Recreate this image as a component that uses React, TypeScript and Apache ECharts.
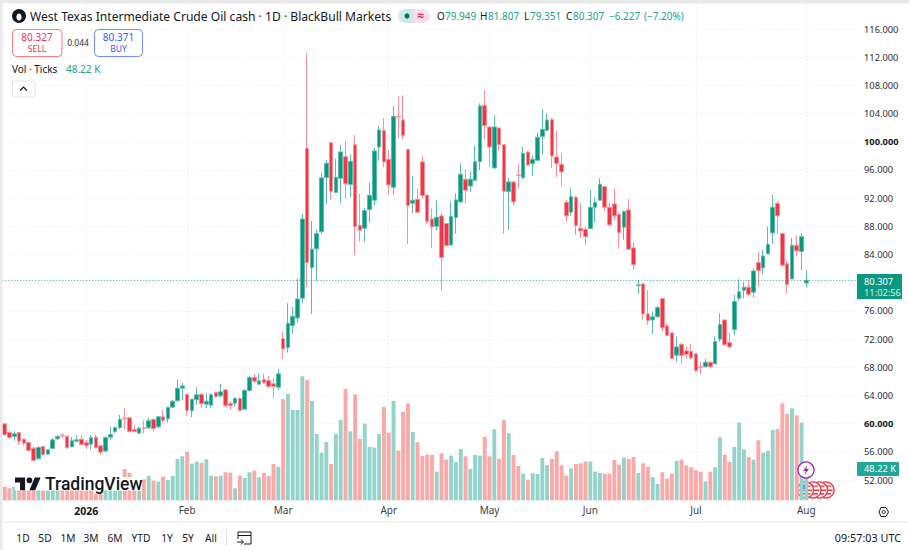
import React, { useEffect, useRef } from "react";
import * as echarts from "echarts";

const opens = [
59.97,58.74,58.18,58.74,57.80,57.32,56.52,55.01,56.76,55.67,
56.47,57.84,58.36,58.22,56.71,57.51,57.80,57.28,57.09,58.08,
56.85,56.10,58.08,58.88,59.45,60.78,60.82,59.17,58.65,59.40,
59.40,60.59,59.55,60.97,60.68,62.34,63.23,65.03,64.18,61.82,
63.38,64.18,62.76,62.62,64.42,63.94,64.79,62.86,62.90,63.57,
62.05,64.70,66.54,65.60,66.26,66.12,65.65,65.17,72.07,70.80,
73.92,75.00,77.80,99.07,82.15,84.80,87.25,94.91,99.88,92.79,
94.82,97.89,93.92,99.59,88.15,87.73,90.37,91.70,99.26,101.58,
97.51,93.54,103.61,103.09,98.88,91.27,91.84,97.14,92.45,89.05,
88.01,89.48,88.39,85.36,89.24,91.46,94.68,93.73,94.54,97.18,
105.17,102.10,96.28,101.96,99.59,92.93,94.30,95.29,94.91,98.55,
96.90,97.37,100.73,101.63,103.14,97.84,96.80,91.41,90.00,92.12,
87.73,87.58,87.68,90.70,91.70,93.64,90.70,91.18,89.71,87.87,
90.33,84.94,79.59,79.83,75.57,74.72,75.15,77.75,73.87,72.88,
69.71,71.27,70.33,70.28,69.90,68.06,68.06,68.72,68.48,71.98,
74.72,71.51,73.35,77.80,78.93,79.36,78.65,82.86,82.10,84.09,
87.06,91.27,86.97,82.67,80.54,85.31,84.42,79.949];
const closes = [
58.41,58.03,58.55,57.51,57.23,56.19,54.77,56.62,55.57,56.28,
57.70,58.18,58.27,56.57,57.56,57.70,57.04,56.85,57.99,56.57,
55.95,58.03,58.46,59.45,60.59,60.68,58.88,58.88,59.36,59.31,
60.40,59.31,60.97,60.45,62.29,63.19,65.03,65.36,61.86,63.47,
64.09,62.81,63.19,64.09,63.85,64.51,62.53,62.53,63.57,61.86,
64.70,66.54,66.02,66.07,65.79,65.27,65.27,67.06,70.61,74.25,
75.24,77.70,89.05,82.86,84.75,86.97,94.87,96.95,92.93,94.96,
98.55,94.02,97.23,87.96,87.44,90.23,92.41,98.70,101.67,97.14,
93.87,103.57,103.52,100.87,90.94,91.70,90.00,92.36,88.72,87.92,
89.29,83.57,85.27,89.43,91.75,95.39,93.12,94.68,97.18,105.08,
102.29,99.26,102.10,99.59,92.97,94.30,91.46,95.20,98.37,96.71,
97.51,100.63,101.77,103.09,97.99,96.90,95.72,89.48,92.22,88.10,
87.35,86.54,90.70,91.41,93.97,90.70,88.20,89.48,87.11,90.09,
84.75,82.53,79.69,75.57,74.63,75.15,76.47,73.59,72.50,69.24,
70.89,69.67,69.81,69.33,67.49,67.96,68.72,68.06,71.65,74.06,
71.18,70.89,77.32,78.70,79.36,78.36,81.67,81.72,83.80,85.41,
90.70,89.48,82.48,79.74,85.31,84.51,86.53,80.307];
const highs = [
59.97,58.98,58.88,58.74,57.94,57.47,56.76,56.76,56.85,56.38,
57.94,58.36,58.65,58.22,58.08,58.36,58.32,57.70,58.36,58.41,
56.99,58.18,59.59,59.59,61.25,62.19,60.82,59.83,59.59,60.45,
60.78,60.78,61.11,61.96,62.43,63.38,66.21,65.83,64.18,63.47,
65.17,64.32,64.32,64.32,64.56,65.65,64.89,63.14,63.75,63.75,
64.89,66.78,67.02,67.16,67.06,66.78,66.45,67.73,73.07,77.08,
76.52,80.56,89.76,112.55,88.77,87.49,95.53,97.42,99.88,97.56,
99.55,100.11,98.22,100.97,92.60,90.66,94.20,99.17,102.24,103.33,
98.84,105.08,106.40,106.59,98.88,95.15,93.40,98.03,92.45,90.52,
91.75,89.95,88.39,91.56,92.69,96.95,96.10,95.76,99.40,105.46,
107.35,102.10,103.75,101.96,99.59,94.82,94.30,96.85,99.31,98.70,
98.03,101.30,104.65,104.04,103.42,101.58,98.37,91.75,93.49,92.31,
91.27,87.96,93.16,92.12,94.82,93.64,91.41,93.40,89.95,90.23,
91.89,85.69,80.40,79.92,78.98,75.91,76.71,77.84,74.25,72.97,
72.36,71.41,70.94,71.32,69.90,68.81,69.19,68.81,72.36,75.67,
74.72,72.93,78.27,80.49,80.11,80.40,82.05,84.42,84.65,87.96,
92.45,91.56,86.97,83.14,86.31,86.64,87.02,81.807];
const lows = [
58.27,57.80,57.56,56.95,56.85,56.05,54.77,54.96,55.48,55.53,
56.38,57.70,57.94,56.47,56.66,57.37,56.95,56.38,56.28,56.47,
55.57,55.95,57.70,58.65,59.22,59.12,58.74,58.74,58.55,58.65,
59.22,58.88,59.36,60.07,60.16,62.19,63.14,63.38,61.11,60.92,
62.67,62.19,62.19,62.19,63.61,63.75,62.34,61.96,62.43,61.72,
61.96,64.56,65.83,65.50,65.65,65.03,63.61,64.79,69.14,70.09,
72.73,74.29,77.09,79.36,75.57,80.30,86.92,91.18,91.75,92.79,
91.27,91.89,92.08,83.94,85.84,85.84,88.53,90.94,97.32,96.38,
92.41,92.50,100.49,100.35,85.50,89.85,89.95,91.98,88.34,84.89,
87.40,78.88,85.13,85.22,86.97,91.27,91.27,92.93,94.35,96.00,
100.35,96.47,96.24,98.74,86.92,87.49,90.94,93.35,94.68,96.57,
95.15,97.32,98.22,101.49,96.24,94.96,93.78,88.67,89.52,86.78,
86.31,85.36,87.63,88.53,91.65,90.09,87.96,88.91,84.79,86.07,
84.65,81.82,78.41,74.72,74.01,72.74,75.05,73.07,72.36,69.14,
68.81,68.48,69.19,69.05,67.40,67.02,68.01,67.82,68.44,71.65,
71.08,70.75,72.55,77.47,77.80,78.03,77.94,79.45,81.20,84.09,
85.50,86.92,82.29,78.41,80.49,83.71,81.82,79.351];
const volumes = [
20.5,18,20.5,24,23,21,24,30,22,18,
25,20,22,24,20,19,21,20,26,9.5,
9.5,24,20,22,26,47,41.5,24,22,31.5,
36.5,29.5,28,35.5,30.5,36.5,62,66,73,55,
58,56,61.5,37,36,37,42,41.5,18,37,
33.5,42,44.5,34.5,41,36.5,54.5,50,151.5,159.5,
135.5,135.5,186,180.5,149,99.5,71.5,87.5,54.5,99.5,
120.5,167,103.5,159,92,115,80,79,99.5,140,
101.5,149,74.5,133,145.5,102.5,87,66.5,68.5,68,
43,70.5,61,67,57.5,77,66,47,68,67,
95.5,66,106.5,62,120.5,100.5,68,51.5,40,31,
40.5,39.5,63.5,52.5,62,73.5,52.5,37,48,54.5,
55.5,58.5,58,43,41,40,40,60.5,53.5,64,
62,65,41,55.5,50.5,35,24.5,42,32.5,40,
59,61,52.5,49.5,45,43,28.5,43,49.5,94.5,
68.5,57.5,80,116.5,76.5,65,61,90,71.5,74.5,
105.5,107,145.5,130,138,127.5,116.5,48.22];
const volumeRedOverride = [14, 15, 18];
const tickIndexes = [17, 38, 58, 80, 101, 122, 144, 167];
const tickLabels = ["2026", "Feb", "Mar", "Apr", "May", "Jun", "Jul", "Aug"];
const slotCount = 178;
const categories = Array.from({ length: slotCount }, (_, i) => String(i));
const lastPrice = 80.307;
const rangeButtons = ["1D", "5D", "1M", "3M", "6M", "YTD", "1Y", "5Y", "All"];
const rangeX = [23, 45, 68, 91, 115, 141, 167, 188, 211];

const FONT = '"Noto Sans", "Open Sans", Roboto, sans-serif';
const UP = "#089981";
const DOWN = "#F23645";

echarts.graphic.registerShape(
  "tvlogo",
  echarts.graphic.extendPath(
    "M14 22H7V11H0V4H14ZM28 22H20L27.5 4H35.5ZM24 8A4 4 0 1 1 16 8A4 4 0 1 1 24 8Z",
    {} as any
  ) as any
);

const txt = (
  text: string, x: number, y: number, fill: string, size = 10, weight: any = 400, align = "left", family = FONT
) => ({
  type: "text", z: 20, silent: true,
  style: { text, x, y, fill, font: `${weight} ${size}px ${family}`, textAlign: align, textVerticalAlign: "middle" },
});
const rect = (x: number, y: number, width: number, height: number, style: any, r: any = 0) => ({
  type: "rect", z: 15, silent: true, shape: { x, y, width, height, r }, style,
});
const usFlag = (cx: number) => ({
  type: "group", z: 18, silent: true, children: [
    { type: "circle", shape: { cx, cy: 490, r: 8 }, style: { fill: "#fff", stroke: DOWN, lineWidth: 1.4 } },
    { type: "rect", shape: { x: cx - 6.5, y: 489.5, width: 13, height: 1.6 }, style: { fill: DOWN } },
    { type: "rect", shape: { x: cx - 5, y: 493, width: 10, height: 1.6 }, style: { fill: DOWN } },
    { type: "rect", shape: { x: cx - 5.5, y: 484.5, width: 5.5, height: 4.5 }, style: { fill: "#2962FF" } },
    { type: "rect", shape: { x: cx, y: 485.5, width: 5, height: 1.3 }, style: { fill: DOWN } },
  ],
});

export default function App() {
  const ref = useRef<HTMLDivElement>(null);
  useEffect(() => {
    document.body.style.margin = "0";
    const chart = echarts.init(ref.current!, undefined, { renderer: "svg" });
    const graphic: any[] = [
      // frame
      rect(0, 0, 909, 3.5, { fill: "#E9E9EA" }),
      rect(0, 0, 2.5, 550, { fill: "#E9E9EA" }),
      rect(3, 521.5, 906, 1, { fill: "#E6E8EE" }),
      // header
      { type: "circle", z: 15, silent: true, shape: { cx: 19, cy: 16, r: 7 }, style: { fill: "#131722" } },
      { type: "ellipse", z: 16, silent: true, shape: { cx: 19, cy: 17, rx: 2.6, ry: 3.6 }, style: { fill: "#fff" } },
      txt("West Texas Intermediate Crude Oil cash · 1D · BlackBull Markets", 30, 16, "#131722", 12.1),
      rect(398, 9, 16, 14, { fill: "#CDEBE6" }, [7, 0, 0, 7]),
      rect(414, 9, 16, 14, { fill: "#FBE0E8" }, [0, 7, 7, 0]),
      { type: "circle", z: 16, silent: true, shape: { cx: 407, cy: 16, r: 2.6 }, style: { fill: "#06715F" } },
      txt("≈", 421, 15.5, "#E91E63", 12, 700, "center"),
      txt("O", 437, 16, "#131722", 10), txt("79.949", 445, 16, "#22A08C", 10),
      txt("H", 480, 16, "#131722", 10), txt("81.807", 488, 16, "#22A08C", 10),
      txt("L", 524, 16, "#131722", 10), txt("79.351", 530, 16, "#22A08C", 10),
      txt("C", 566, 16, "#131722", 10), txt("80.307", 573, 16, "#22A08C", 10),
      txt("−6.227", 609, 16, "#22A08C", 10), txt("(−7.20%)", 644, 16, "#22A08C", 10),
      // sell / buy
      rect(12.5, 29.5, 49.5, 27, { fill: "#fff", stroke: "#F77C80", lineWidth: 1 }, 4),
      txt("80.327", 37, 37, DOWN, 10, 400, "center"),
      txt("SELL", 37, 48.5, DOWN, 8.5, 400, "center"),
      txt("0.044", 78, 42.5, "#2A2E39", 8.5, 400, "center"),
      rect(94.5, 29.5, 48, 27, { fill: "#fff", stroke: "#6E8FF7", lineWidth: 1 }, 4),
      txt("80.371", 118.5, 37, "#2962FF", 10, 400, "center"),
      txt("BUY", 118.5, 48.5, "#2962FF", 8.5, 400, "center"),
      // volume legend
      txt("Vol · Ticks", 12, 69, "#131722", 10),
      txt("48.22 K", 66, 69, "#22A08C", 10),
      rect(12.5, 81, 22.5, 16, { fill: "#fff", stroke: "#E0E3EB", lineWidth: 1 }, 2),
      { type: "polyline", z: 16, silent: true, shape: { points: [[20, 90.5], [23.5, 87], [27, 90.5]] }, style: { stroke: "#131722", lineWidth: 1.2, fill: "none" } },
      // price tags
      rect(857, 274, 45, 25, { fill: UP }),
      txt("80.307", 864, 281, "#fff", 9.3),
      txt("11:02:56", 864, 292, "#D5F0EB", 9.3),
      rect(857, 462, 42, 14, { fill: "#22A699" }, 1),
      txt("48.22 K", 864, 468.8, "#fff", 9.3),
      // logo
      rect(15, 477, 127, 13.5, { fill: "#fff" }),
      { type: "tvlogo", z: 16, silent: true, x: 15, y: 474.5, scaleX: 0.72, scaleY: 0.72, style: { fill: "#131722" } },
      txt("TradingView", 45, 484, "#131722", 17.5, 500, "left", "Roboto, sans-serif"),
      // events
      usFlag(826), usFlag(819.5), usFlag(813), usFlag(805.5),
      { type: "circle", z: 17, silent: true, shape: { cx: 806, cy: 470, r: 8 }, style: { fill: "#fff", stroke: "#9C27B0", lineWidth: 1.3 } },
      { type: "polygon", z: 18, silent: true, shape: { points: [[807.5, 465], [803, 471], [805.8, 471], [804.5, 475], [809, 469], [806.2, 469]] }, style: { fill: "#9C27B0" } },
      // gear
      { type: "polygon", z: 16, silent: true, shape: { points: [[879, 512], [881, 507.5], [886, 507.5], [888.5, 512], [886, 516.5], [881, 516.5]] }, style: { fill: "none", stroke: "#131722", lineWidth: 1 } },
      { type: "circle", z: 16, silent: true, shape: { cx: 883.7, cy: 512, r: 1.6 }, style: { fill: "none", stroke: "#131722", lineWidth: 1 } },
      // bottom toolbar
      ...rangeButtons.map((b, i) => txt(b, rangeX[i], 538, "#131722", 10.2, 400, "center")),
      rect(226, 530, 1, 16, { fill: "#E0E3EB" }),
      { type: "polyline", z: 16, silent: true, shape: { points: [[238, 539], [238, 532], [251, 532], [251, 544], [244, 544]] }, style: { stroke: "#131722", lineWidth: 1, fill: "none" } },
      { type: "line", z: 16, silent: true, shape: { x1: 238, y1: 535.5, x2: 251, y2: 535.5 }, style: { stroke: "#131722", lineWidth: 1 } },
      { type: "polyline", z: 16, silent: true, shape: { points: [[237, 542], [243, 542]] }, style: { stroke: "#131722", lineWidth: 1 } },
      { type: "polyline", z: 16, silent: true, shape: { points: [[241, 539.5], [243.5, 542], [241, 544.5]] }, style: { stroke: "#131722", lineWidth: 1, fill: "none" } },
      txt("09:57:03 UTC", 901, 537.5, "#131722", 10.8, 400, "right"),
    ];

    chart.setOption({
      animation: false,
      backgroundColor: "#fff",
      grid: [
        { left: 2.33, width: 854.4, top: 3.5, height: 496.8, containLabel: false },
        { left: 2.33, width: 854.4, top: 29, height: 451, containLabel: false },
      ],
      xAxis: [
        {
          type: "category", gridIndex: 0, data: categories, boundaryGap: true,
          axisLine: { show: false }, axisTick: { show: false },
          splitLine: {
            show: true, alignWithLabel: true,
            interval: (i: number) => tickIndexes.includes(i),
            lineStyle: { color: "#E9EBF0", type: [1, 2.5], width: 1 },
          },
          axisLabel: {
            interval: (i: number) => tickIndexes.includes(i), margin: 5, hideOverlap: false,
            formatter: (v: string) => {
              const t = tickLabels[tickIndexes.indexOf(Number(v))];
              return t === "2026" ? `{b|${t}}` : `{n|${t}}`;
            },
            rich: {
              b: { fontFamily: FONT, fontSize: 10.5, fontWeight: 700, color: "#131722" },
              n: { fontFamily: FONT, fontSize: 10, color: "#3B3F4A" },
            },
          },
        },
        { type: "category", gridIndex: 1, data: categories, boundaryGap: true, show: false },
      ],
      yAxis: [
        { type: "value", gridIndex: 0, min: 0, max: 745.2, show: false, splitLine: { show: false } },
        {
          type: "value", gridIndex: 1, position: "right", min: 52, max: 116, interval: 4,
          axisLine: { show: false }, axisTick: { show: false },
          splitLine: { show: true, lineStyle: { color: "#E9EBF0", type: [1, 2.5], width: 1 } },
          axisLabel: {
            margin: 7.3, align: "left", color: "#131722",
            formatter: (v: number) => {
              if (v === 80) return "";
              const t = v.toFixed(3);
              return v === 100 || v === 60 ? `{b|${t}}` : `{n|${t}}`;
            },
            rich: {
              b: { fontFamily: FONT, fontSize: 9.3, fontWeight: 700, color: "#131722" },
              n: { fontFamily: FONT, fontSize: 9.3, color: "#2A2E39" },
            },
          },
        },
      ],
      series: [
        {
          type: "bar", name: "Vol", xAxisIndex: 0, yAxisIndex: 0, barWidth: 3.9,
          data: volumes.map((v, i) => ({
            value: v,
            itemStyle: {
              color: closes[i] >= opens[i] && !volumeRedOverride.includes(i) ? "#93D3C9" : "#F9A9A8",
            },
          })),
        },
        {
          type: "candlestick", name: "WTI", xAxisIndex: 1, yAxisIndex: 1, barWidth: 4.2,
          itemStyle: { color: UP, color0: DOWN, borderColor: "#5DBBAA", borderColor0: "#F8909A", borderWidth: 1 },
          data: opens.map((o, i) => [o, closes[i], lows[i], highs[i]]),
          markLine: {
            silent: true, symbol: "none", label: { show: false },
            lineStyle: { color: UP, type: [1, 2], width: 1, opacity: 0.8 },
            data: [{ yAxis: lastPrice }],
          },
        },
      ],
      graphic: { elements: graphic },
    });
    return () => chart.dispose();
  }, []);
  return <div ref={ref} style={{ position: "fixed", left: 0, top: 0, width: 909, height: 550 }} />;
}
